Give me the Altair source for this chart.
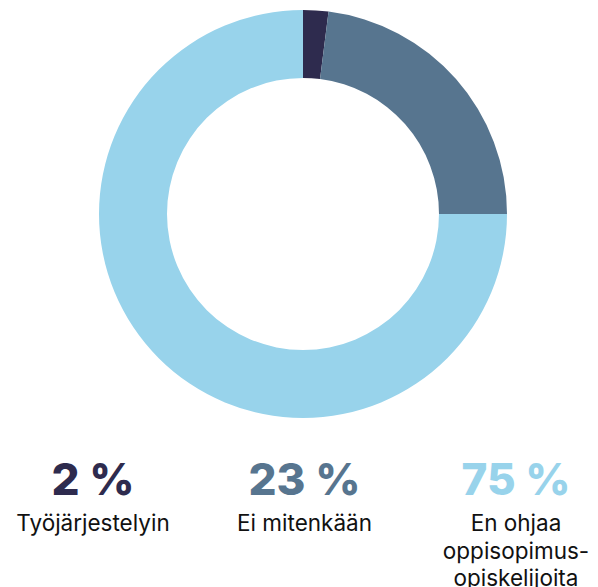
import altair as alt
import pandas as pd

categories = ["Työjärjestelyin", "Ei mitenkään", "En ohjaa oppisopimus-opiskelijoita"]
values = [2, 23, 75]
pct_labels = ["2 %", "23 %", "75 %"]
label_lines = ["Työjärjestelyin", "Ei mitenkään", "En ohjaa\noppisopimus-\nopiskelijoita"]
colors = ["#2e2b4e", "#57758f", "#98d3eb"]

df = pd.DataFrame({
    "category": categories,
    "value": values,
    "order": [0, 1, 2],
    "pct": pct_labels,
    "label": label_lines,
})

color_scale = alt.Scale(domain=categories, range=colors)

arc = alt.Chart(df).mark_arc(outerRadius=204, innerRadius=136, stroke=None).encode(
    theta=alt.Theta("value:Q", stack=True),
    order=alt.Order("order:Q"),
    color=alt.Color("category:N", scale=color_scale, legend=None),
    x=alt.value(295),
    y=alt.value(206),
)

xpos = alt.X("order:Q", scale=alt.Scale(domain=[0, 2], range=[85, 508]), axis=None)

pct = alt.Chart(df).mark_text(
    font="Inter", fontSize=44, fontWeight=800, baseline="alphabetic", align="center"
).encode(
    x=xpos,
    y=alt.value(487),
    text="pct:N",
    color=alt.Color("category:N", scale=color_scale, legend=None),
)

lab = alt.Chart(df).mark_text(
    font="Inter", fontSize=22.5, baseline="alphabetic", align="center",
    lineBreak="\n", lineHeight=27.5, color="#111111"
).encode(
    x=xpos,
    y=alt.value(523),
    text="label:N",
)

chart = alt.layer(arc, pct, lab).properties(
    width=582, height=579, padding=0, autosize="none"
).configure_view(stroke=None)

chart.save("out.html", embed_options={"renderer": "svg", "actions": False})
